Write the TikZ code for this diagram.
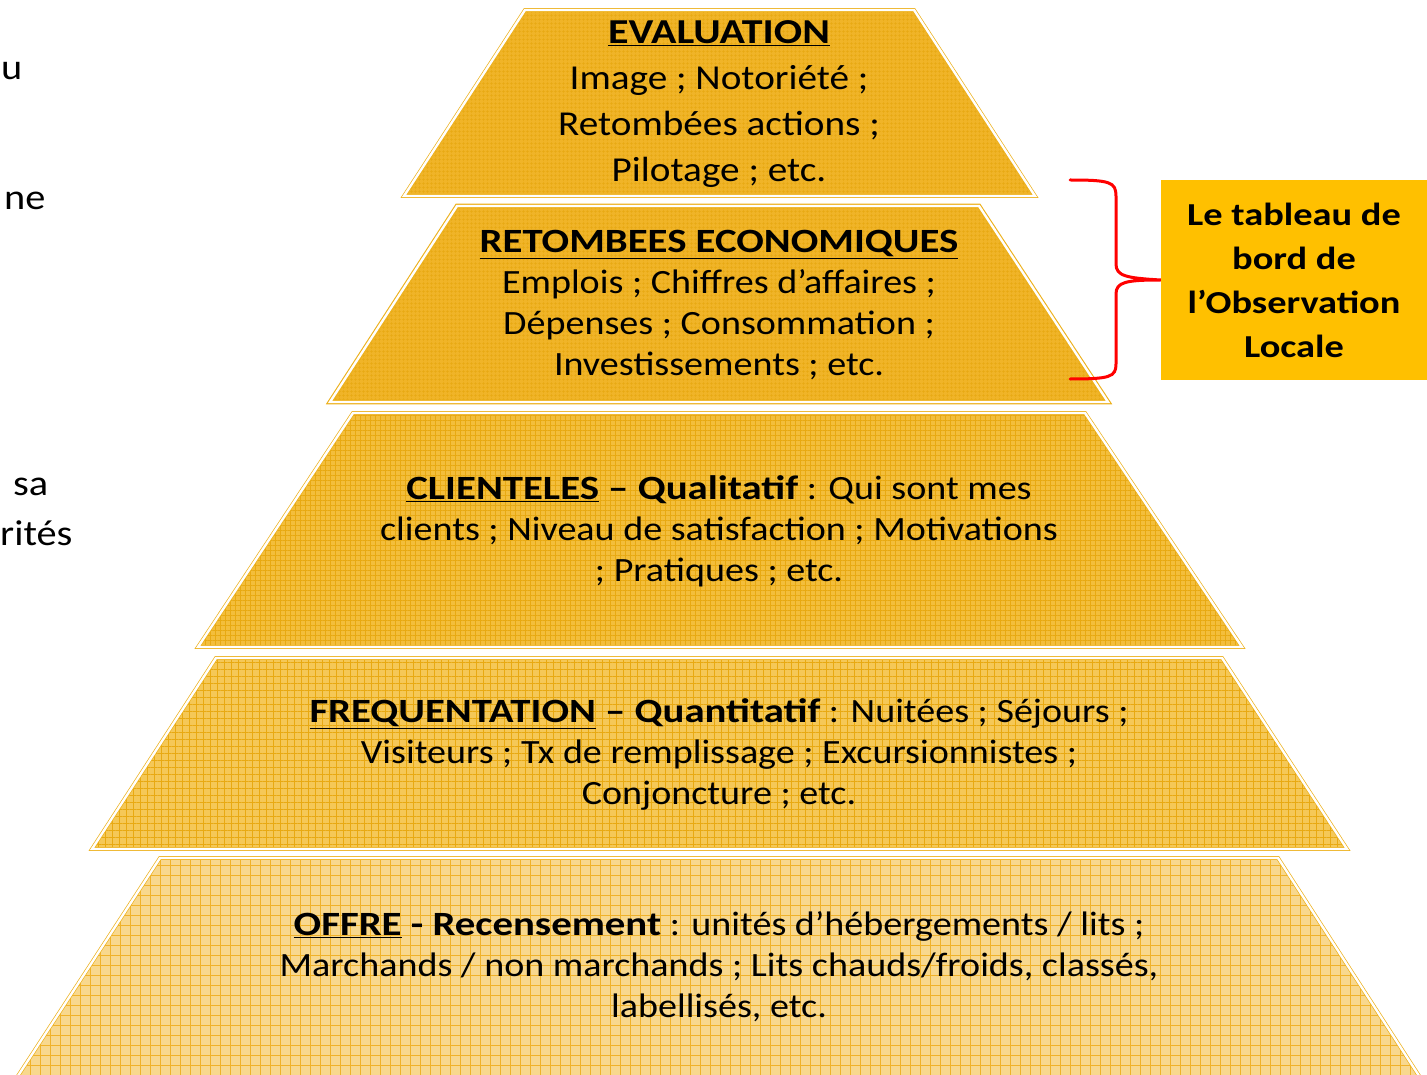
\documentclass[tikz,border=0pt]{standalone}
\usepackage{fontspec}
\setmainfont{Carlito}[FakeStretch=1.12, BoldFeatures={FakeStretch=1.2}]
\usetikzlibrary{patterns.meta}
\definecolor{edge}{HTML}{EDB11C}
\definecolor{fillA}{HTML}{F0B428}
\definecolor{fillB}{HTML}{F3BE3C}
\definecolor{fillC}{HTML}{F5C857}
\definecolor{fillD}{HTML}{F8D88E}
\definecolor{gridA}{HTML}{E8A912}
\definecolor{gridD}{HTML}{F0B22A}
\definecolor{boxgold}{HTML}{FFC000}
\tikzset{
  layer/.style n args={3}{draw=edge, double=white, double distance=2.4pt, line width=1.1pt,
     preaction={fill=#1}, pattern={Hatch[angle=0,distance=#3,line width=0.7pt]}, pattern color=#2},
  txt/.style={align=center, inner sep=0pt, text=black},
  side/.style={anchor=base west, inner sep=0pt, font=\fontsize{36}{40}\selectfont},
}
\begin{document}
\begin{tikzpicture}[x=1pt,y=-1pt]
\useasboundingbox (0,0) rectangle (1427,1075);
\clip (0,0) rectangle (1427,1075);

% left cut-off text
\node[side] (s1) at (1,80) {u};
\node[side] (s2) at (4,210) {ne};
\node[side] (s3) at (13,495) {sa};
\node[side] (s4) at (0,545) {rités};

% layers
\path[layer={fillA}{gridA}{4pt}] (525,10) -- (914,10) -- (1035,196) -- (404,196) -- cycle;
\path[layer={fillA}{gridA}{4pt}] (457,206) -- (979,206) -- (1108,402) -- (330,402) -- cycle;
\path[layer={fillB}{gridA}{5pt}] (353,413) -- (1085,413) -- (1242,647) -- (198,647) -- cycle;
\path[layer={fillC}{gridA}{7pt}] (216,658) -- (1222,658) -- (1347,849) -- (92,849) -- cycle;
\path[layer={fillD}{gridD}{10pt}] (160,858) -- (1278,858) -- (1423,1082) -- (14,1082) -- cycle;

% texts
\node[txt, font=\fontsize{35}{46}\selectfont] (evaluation) at (719,104)
  {\textbf{\underline{EVALUATION}}\\Image ; Notoriété ;\\Retombées actions ;\\Pilotage ; etc.};
\node[txt, font=\fontsize{34}{41}\selectfont] (retombees) at (719,305)
  {\textbf{\underline{RETOMBEES ECONOMIQUES}}\\Emplois ; Chiffres d’affaires ;\\Dépenses ; Consommation ;\\Investissements ; etc.};
\node[txt, font=\fontsize{34}{41}\selectfont] (clienteles) at (719,531)
  {\textbf{\underline{CLIENTELES} – Qualitatif} : Qui sont mes\\clients ; Niveau de satisfaction ; Motivations\\; Pratiques ; etc.};
\node[txt, font=\fontsize{34}{41}\selectfont] (frequentation) at (719,754)
  {\textbf{\underline{FREQUENTATION} – Quantitatif} : Nuitées ; Séjours ;\\Visiteurs ; Tx de remplissage ; Excursionnistes ;\\Conjoncture ; etc.};
\node[txt, font=\fontsize{34}{41}\selectfont] (offre) at (719,967)
  {\textbf{\underline{OFFRE} - Recensement} : unités d’hébergements / lits ;\\Marchands / non marchands ; Lits chauds/froids, classés,\\labellisés, etc.};

% right box
\node[fill=boxgold, minimum width=266pt, minimum height=200pt, inner sep=0pt,
      align=center, font=\bfseries\fontsize{32}{44}\selectfont] (tableau) at (1294,280)
  {Le tableau de\\bord de\\l’Observation\\Locale};

% red brace
\coordinate (btop) at (1070,180);
\coordinate (bbot) at (1070,379);
\draw[red, line width=3pt, line cap=round]
  (btop) .. controls (1110,180) and (1116,182) .. (1116,196) -- (1116,264)
  .. controls (1116,276) and (1126,278) .. (tableau.west)
  .. controls (1126,280) and (1116,282) .. (1116,294) -- (1116,364)
  .. controls (1116,377) and (1110,379) .. (bbot);
\end{tikzpicture}
\end{document}
